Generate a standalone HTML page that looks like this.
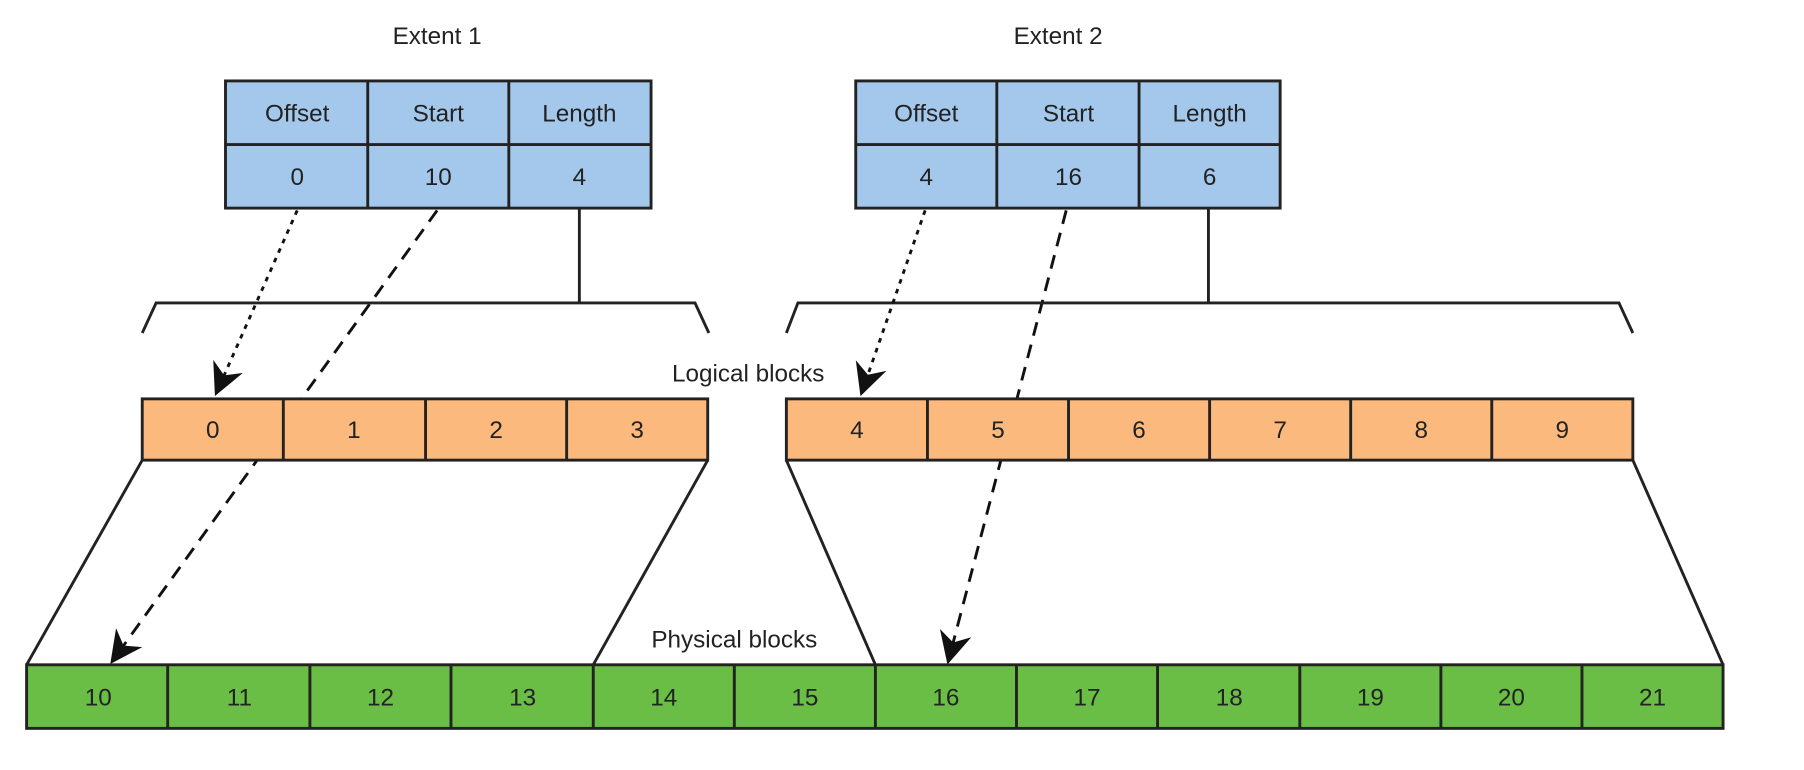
<!DOCTYPE html>
<html><head><style>html,body{margin:0;padding:0;background:#fff;}svg{display:block}</style></head>
<body>
<svg width="1804" height="770" viewBox="0 0 1560 666" preserveAspectRatio="none" xmlns="http://www.w3.org/2000/svg" font-family="Liberation Sans, sans-serif" font-size="21" fill="#222">
<defs>
<marker id="b" viewBox="0 0 10 10" refX="9" refY="5" markerWidth="28" markerHeight="28" orient="auto" markerUnits="userSpaceOnUse"><path d="M0,0 L10,5 L0,10 L3,5 z" fill="#111"/></marker></defs>
<g text-anchor="middle">
<text x="378" y="38">Extent 1</text>
<text x="915" y="38">Extent 2</text>
</g>
<g stroke="#111" stroke-width="2.5" fill="none">
<line x1="378" y1="182" x2="97" y2="572" stroke-dasharray="12,8" marker-end="url(#b)"/>
<line x1="922" y1="182" x2="820" y2="572" stroke-dasharray="12,8" marker-end="url(#b)"/>
</g>
<g stroke="#222" stroke-width="2.5">
<rect x="195" y="70" width="368" height="110" fill="#a4c8eb"/>
<line x1="195" y1="125" x2="563" y2="125"/><line x1="318" y1="70" x2="318" y2="180"/><line x1="440" y1="70" x2="440" y2="180"/>
<rect x="740" y="70" width="367" height="110" fill="#a4c8eb"/>
<line x1="740" y1="125" x2="1107" y2="125"/><line x1="862" y1="70" x2="862" y2="180"/><line x1="985" y1="70" x2="985" y2="180"/>
<g fill="none">
<line x1="501" y1="180" x2="501" y2="262"/>
<polyline points="123,288 135,262 601,262 613,288"/>
<line x1="1045" y1="180" x2="1045" y2="262"/>
<polyline points="680,288 690,262 1400,262 1412,288"/>
<line x1="123" y1="398" x2="23" y2="575"/><line x1="612" y1="398" x2="513" y2="575"/>
<line x1="680" y1="398" x2="757" y2="575"/><line x1="1412" y1="398" x2="1490" y2="575"/>
</g>
<rect x="123" y="345" width="489" height="53" fill="#fbb97e"/>
<line x1="245" y1="345" x2="245" y2="398"/><line x1="368" y1="345" x2="368" y2="398"/><line x1="490" y1="345" x2="490" y2="398"/>
<rect x="680" y="345" width="732" height="53" fill="#fbb97e"/>
<line x1="802" y1="345" x2="802" y2="398"/><line x1="924" y1="345" x2="924" y2="398"/><line x1="1046" y1="345" x2="1046" y2="398"/><line x1="1168" y1="345" x2="1168" y2="398"/><line x1="1290" y1="345" x2="1290" y2="398"/>
<rect x="23" y="575" width="1467" height="55" fill="#6abd45"/>
<line x1="145" y1="575" x2="145" y2="630"/><line x1="268" y1="575" x2="268" y2="630"/><line x1="390" y1="575" x2="390" y2="630"/><line x1="513" y1="575" x2="513" y2="630"/><line x1="635" y1="575" x2="635" y2="630"/><line x1="757" y1="575" x2="757" y2="630"/><line x1="879" y1="575" x2="879" y2="630"/><line x1="1001" y1="575" x2="1001" y2="630"/><line x1="1124" y1="575" x2="1124" y2="630"/><line x1="1246" y1="575" x2="1246" y2="630"/><line x1="1368" y1="575" x2="1368" y2="630"/>
</g>
<g stroke="#111" stroke-width="2.5" fill="none">
<line x1="257" y1="182" x2="187" y2="340" stroke-dasharray="4,5" marker-end="url(#b)"/>
<line x1="800" y1="182" x2="745" y2="340" stroke-dasharray="4,5" marker-end="url(#b)"/>
</g>
<g text-anchor="middle">
<text x="257" y="105">Offset</text><text x="379" y="105">Start</text><text x="501" y="105">Length</text>
<text x="257" y="160">0</text><text x="379" y="160">10</text><text x="501" y="160">4</text>
<text x="801" y="105">Offset</text><text x="924" y="105">Start</text><text x="1046" y="105">Length</text>
<text x="801" y="160">4</text><text x="924" y="160">16</text><text x="1046" y="160">6</text>
<text x="647" y="330">Logical blocks</text>
<text x="635" y="560">Physical blocks</text>
<text x="184" y="379">0</text><text x="306" y="379">1</text><text x="429" y="379">2</text><text x="551" y="379">3</text>
<text x="741" y="379">4</text><text x="863" y="379">5</text><text x="985" y="379">6</text><text x="1107" y="379">7</text><text x="1229" y="379">8</text><text x="1351" y="379">9</text>
<text x="85" y="610">10</text><text x="207" y="610">11</text><text x="329" y="610">12</text><text x="452" y="610">13</text><text x="574" y="610">14</text><text x="696" y="610">15</text><text x="818" y="610">16</text><text x="940" y="610">17</text><text x="1063" y="610">18</text><text x="1185" y="610">19</text><text x="1307" y="610">20</text><text x="1429" y="610">21</text>
</g>
</svg>
</body></html>
